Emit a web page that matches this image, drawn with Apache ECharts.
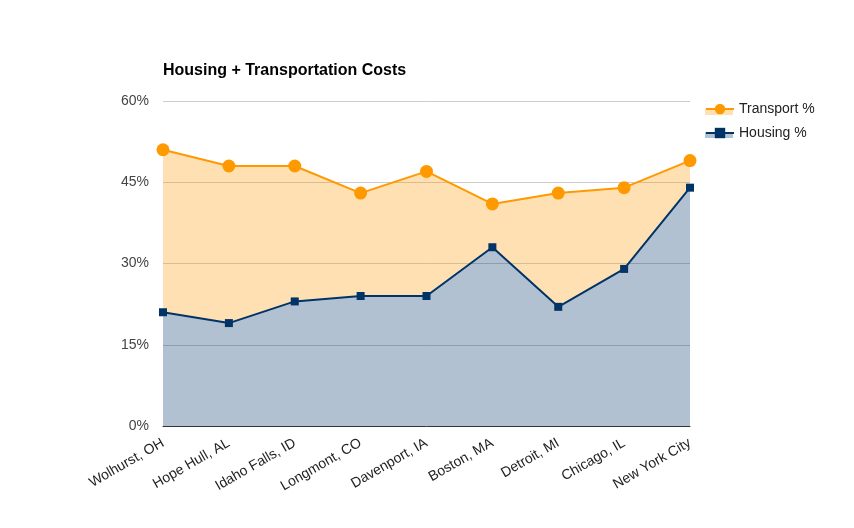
<!DOCTYPE html>
<html>
<head>
<meta charset="utf-8">
<script src="https://cdn.jsdelivr.net/npm/echarts@6/dist/echarts.min.js"></script>
<style>html,body{margin:0;padding:0;background:#fff}#c{width:854px;height:528px}</style>
</head>
<body>
<div id="c"></div>
<script>
var categories = ['Wolhurst, OH','Hope Hull, AL','Idaho Falls, ID','Longmont, CO','Davenport, IA','Boston, MA','Detroit, MI','Chicago, IL','New York City'];
var housing = [21, 19, 23, 24, 24, 33, 22, 29, 44];
var transport = [30, 29, 25, 19, 23, 8, 21, 15, 5];
var yTicks = [0, 15, 30, 45, 60];

var chart = echarts.init(document.getElementById('c'));
var font = 'Liberation Sans, Arial, sans-serif';
chart.setOption({
  animation: false,
  title: {
    text: 'Housing + Transportation Costs',
    left: 158, top: 58,
    textStyle: {fontFamily: font, fontSize: 16, fontWeight: 'bold', color: '#000'}
  },
  legend: {
    orient: 'vertical', left: 700, top: 97,
    itemWidth: 28, itemHeight: 13, itemGap: 10,
    data: ['Transport %', 'Housing %'],
    textStyle: {fontFamily: font, fontSize: 14, color: '#222'}
  },
  graphic: [
    {type: 'rect', left: 705, top: 109, z: 0, shape: {width: 28, height: 6}, style: {fill: '#ffe0b2'}},
    {type: 'rect', left: 705, top: 132, z: 0, shape: {width: 28, height: 6}, style: {fill: '#b3c2d1'}}
  ],
  grid: {left: 163, right: 164, top: 101, bottom: 102},
  xAxis: {
    type: 'category', data: categories, boundaryGap: false,
    axisLine: {lineStyle: {color: '#333', width: 1}},
    axisTick: {show: false},
    axisLabel: {rotate: 30, fontFamily: font, fontSize: 14, color: '#222', margin: 16, interval: 0}
  },
  yAxis: {
    type: 'value', min: 0, max: 60, interval: 15,
    axisLine: {show: false}, axisTick: {show: false},
    axisLabel: {formatter: function(v){return yTicks.indexOf(v) >= 0 ? v + '%' : '';}, fontFamily: font, fontSize: 14, color: '#444', margin: 14},
    splitLine: {lineStyle: {color: '#ccc'}}
  },
  series: [
    {
      name: 'Housing %', type: 'line', stack: 'total', data: housing,
      symbol: 'rect', symbolSize: 8,
      itemStyle: {color: '#003366'},
      lineStyle: {color: '#003366', width: 2},
      areaStyle: {color: '#003366', opacity: 0.3}
    },
    {
      name: 'Transport %', type: 'line', stack: 'total', data: transport,
      symbol: 'circle', symbolSize: 13,
      itemStyle: {color: '#ff9900'},
      lineStyle: {color: '#ff9900', width: 2},
      areaStyle: {color: '#ff9900', opacity: 0.3}
    }
  ]
});
</script>
</body>
</html>
